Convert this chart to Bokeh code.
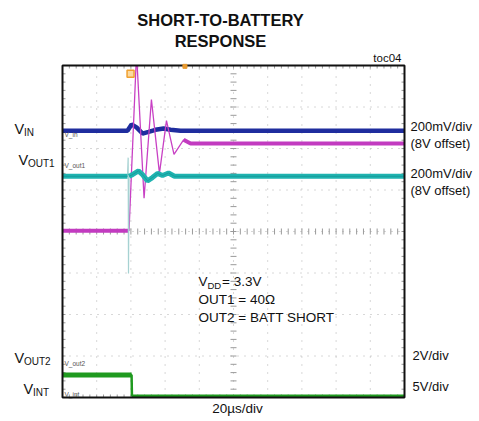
import numpy as np
from bokeh.plotting import figure
from bokeh.models import Label, Range1d
from bokeh.embed import file_html
from bokeh.resources import INLINE

# ---- data (time in µs, amplitude in scope divisions) ----
t_vin = [0, 38.0, 40.4, 43.3, 46.8, 50.3, 54.4, 59.1, 63.2, 69.0, 200]
y_vin = [2.43, 2.43, 2.58, 2.51, 2.36, 2.40, 2.45, 2.48, 2.45, 2.43, 2.43]

t_mag = [0, 38.9, 43.3, 47.7, 52.0, 56.7, 60.8, 65.2, 70.8, 74.9, 200]
y_mag = [0.02, 0.02, 4.3, 0.80, 3.18, 1.40, 2.67, 1.86, 2.21, 2.12, 2.12]

t_out1 = [0, 38.0, 38.4, 38.6, 38.9, 40.9, 44.4, 46.8, 49.7, 52.6, 55.6, 58.5, 62.0, 65.5, 200]
y_out1 = [1.33, 1.33, 1.78, -1.01, 1.33, 1.37, 1.46, 1.37, 1.22, 1.30, 1.40, 1.35, 1.41, 1.33, 1.33]

t_out2 = [0, 40.4, 40.6, 200]
y_out2 = [-3.46, -3.46, -3.96, -3.96]

trig_t = [39.8]
trig_y = [3.80]
tpos_t = [71.6]
tpos_y = [3.98]

x_div = [20, 40, 60, 80, 100, 120, 140, 160, 180]
y_div = [-3, -2, -1, 0, 1, 2, 3]
T0, T1, D0, D1 = 0, 200, -4, 4

# ---- layout (pixels) ----
W, H = 479, 421
FL, FR, FT, FB = 62, 404, 65, 397          # scope screen edges
sxp = (FR - FL) / (T1 - T0)
syp = (FB - FT) / (D1 - D0)
xr = Range1d(T0 - FL / sxp, T1 + (W - FR) / sxp)
yr = Range1d(D0 - (H - FB) / syp, D1 + FT / syp)

FONT = "Liberation Sans"

p = figure(width=W, height=H, x_range=xr, y_range=yr,
           x_axis_type=None, y_axis_type=None, toolbar_location=None,
           output_backend="svg", min_border=0)
p.outline_line_color = None
p.background_fill_color = "white"
p.border_fill_color = "white"
p.grid.visible = False

# dotted graticule
p.segment(x0=x_div, y0=[D0] * len(x_div), x1=x_div, y1=[D1] * len(x_div),
          line_color="#b0b0b0", line_dash="1 7", line_width=1)
p.segment(x0=[T0] * len(y_div), y0=y_div, x1=[T1] * len(y_div), y1=y_div,
          line_color="#b0b0b0", line_dash="1 6", line_width=1)

# minor ticks on centre lines and borders
xt = np.arange(T0, T1 + 0.01, 4.0)
yt = np.arange(D0, D1 + 0.001, 0.2)
tick_col = "#9a9a9a"
for yy in (0, D1, D0):
    p.scatter(xt, np.full(len(xt), yy), marker="dash", angle=np.pi / 2, size=6,
              line_color=tick_col, line_width=1)
for xx in (100, T0, T1):
    p.scatter(np.full(len(yt), xx), yt, marker="dash", size=6,
              line_color=tick_col, line_width=1)

# traces
p.line(t_vin, y_vin, line_color="#1f2d9e", line_width=4.5)

ym = np.array(y_mag, dtype=float)
p.line(t_mag, y_mag, line_color="#c840c4", line_width=1.3)
ym_thick = ym.copy()
ym_thick[2:8] = np.nan
p.line(t_mag, ym_thick, line_color="#c23bc0", line_width=4)

p.line(t_out1, y_out1, line_color="#a6d2d2", line_width=1.2)
yo = np.array(y_out1, dtype=float)
yo[2:4] = np.nan
p.line(t_out1, yo, line_color="#1fb3b0", line_width=5)
p.line(t_out1, yo, line_color="#12908e", line_width=1, line_alpha=0.6)

yo2 = np.array(y_out2, dtype=float)
p.line(t_out2, y_out2, line_color="#1f9a1f", line_width=2.5)
yo2t = yo2.copy()
yo2t[2:] = np.nan
p.line(t_out2, yo2t, line_color="#1f9a1f", line_width=5)

p.scatter(trig_t, trig_y, marker="square", size=7, fill_color="#fbd9a0",
          line_color="#f0a030", line_width=1.5)

# mask everything outside the scope screen
p.quad(left=[xr.start, xr.start, xr.start, T1], right=[xr.end, xr.end, T0, xr.end],
       bottom=[D1, yr.start, yr.start, yr.start], top=[yr.end, D0, yr.end, yr.end],
       fill_color="white", line_color=None)
# screen border
p.quad(left=[T0], right=[T1], bottom=[D0], top=[D1], fill_color=None,
       line_color="#111111", line_width=2)
p.scatter(tpos_t, tpos_y, marker="square", size=4, fill_color="#e89a30",
          line_color="#e89a30")


def txt(s, px, py, size, align="left", bold=False, color="#111111"):
    p.add_layout(Label(x=px, y=H - py, x_units="screen", y_units="screen",
                       text=s, text_font_size=f"{size}px", text_align=align,
                       text_baseline="middle", text_font=FONT,
                       text_font_style="bold" if bold else "normal",
                       text_color=color))


# title
txt("SHORT-TO-BATTERY", 220, 19, 16.5, align="center", bold=True)
txt("RESPONSE", 220, 40, 16.5, align="center", bold=True)
txt("toc04", 401, 57, 11.5, align="right")

# left channel names
txt("V", 14, 128, 14.5); txt("IN", 23.5, 131.5, 10)
txt("V", 18, 159.5, 14.5); txt("OUT1", 27.5, 163, 10)
txt("V", 14, 357, 14.5); txt("OUT2", 23.5, 360.5, 10)
txt("V", 23, 388, 14.5); txt("INT", 32.5, 391.5, 10)

# right scales
txt("200mV/div", 410, 126, 13)
txt("(8V offset)", 410, 143, 13)
txt("200mV/div", 410, 173, 13)
txt("(8V offset)", 410, 190, 13)
txt("2V/div", 412, 355, 13)
txt("5V/div", 412, 386, 13)

# conditions
txt("V", 198, 281, 13.5); txt("DD", 207, 284.5, 9.5); txt("= 3.3V", 221.5, 281, 13.5)
txt("OUT1 = 40\u03a9", 198, 299, 13.5)
txt("OUT2 = BATT SHORT", 198, 317, 13.5)

txt("20\u00b5s/div", 237, 408, 13.5, align="center")

# tiny trace tags
for s, py in (("V_in", 134), ("V_out1", 165), ("V_out2", 363), ("V_int", 394)):
    txt(s, 64, py, 6.5, color="#555555")

open("out.html", "w").write(file_html(p, INLINE))
